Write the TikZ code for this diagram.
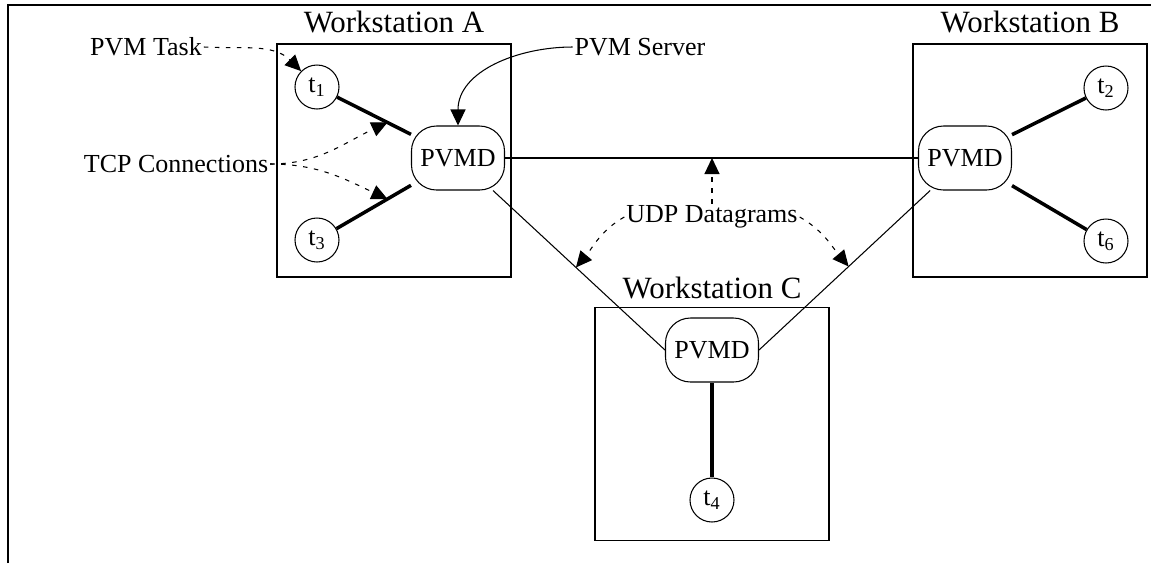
\documentclass[tikz,border=0pt]{standalone}
\usepackage{fontspec}
\setmainfont{Liberation Serif}
\usetikzlibrary{arrows.meta,calc}

\begin{document}
\begin{tikzpicture}[%
	x=0.2mm, y=0.2mm,%
	station/.style ={draw, line width=0.6pt, minimum width=46.8mm, minimum height=46.6mm},%
	title/.style ={font=\fontsize{17.6pt}{21pt}\selectfont, inner sep=0pt},%
	note/.style ={font=\fontsize{14.8pt}{17pt}\selectfont, inner sep=1pt},%
	task/.style ={draw, circle, line width=0.6pt, minimum size=8.8mm, inner sep=0pt, font=\fontsize{14.8pt}{17pt}\selectfont},%
	daemon/.style ={draw, rounded corners=5mm, line width=0.6pt, minimum width=18.6mm, minimum height=12.8mm, inner sep=0pt, font=\fontsize{14.8pt}{17pt}\selectfont},%
	link/.style ={line width=0.6pt},%
	conn/.style ={line width=2pt},%
	pointer/.style ={-{Triangle[length=3.2mm,width=3mm]}, line width=0.6pt},%
	hint/.style ={pointer, dash pattern=on 0.9mm off 1.3mm},%
	]
\useasboundingbox (0,0) rectangle (1151,-563);
%%% frame
	\draw [line width=0.8pt] (8,-563) -- (8,-5) -- (1151,-5);
%%% frame
%%% workstations
	\foreach \l/\x/\y/\ty in {A/394/160.5/22,B/1030/160.5/22,C/712/424/288}
		{\node [station] (ws\l) at (\x,-\y) {};
		 \node [title] (title\l) at (\x,-\ty) {Workstation \l};}
%%% workstations
%%% daemons and tasks
	\node [daemon] (pa) at (458,-158) {PVMD};
	\node [daemon] (pb) at (965,-158) {PVMD};
	\node [daemon] (pc) at (712,-350) {PVMD};
	%
	\node [task] (t1) at (317,-87) {t\textsubscript{1}};
	\node [task] (t3) at (317,-240) {t\textsubscript{3}};
	\node [task] (t2) at (1106,-88) {t\textsubscript{2}};
	\node [task] (t6) at (1106,-241) {t\textsubscript{6}};
	\node [task] (t4) at (712,-500) {t\textsubscript{4}};
%%% daemons and tasks
%%% connections
	\foreach \a/\b in {t1/pa,t3/pa,t2/pb,t6/pb,t4/pc}
		{\draw [conn] (\a) -- (\b);}
	\draw [link] (pa) -- (pb);
	\draw [link] (pa) -- (pc.west);
	\draw [link] (pb) -- (pc.east);
%%% connections
%%% labels
	\node [note] (tasklabel) at (146,-47) {PVM Task};
	\node [note] (serverlabel) at (640,-47) {PVM Server};
	\node [note] (tcplabel) at (176,-164) {TCP Connections};
	\node [note] (udplabel) at (712,-217) {UDP Datagrams};
	%
	\coordinate (tcpup) at ($(t1)!.5!(pa)$);
	\coordinate (tcpdown) at ($(t3)!.5!(pa)$);
	\coordinate (udpup) at (pc |- pa);
	\coordinate (udpleft) at ($(pa)!.57!(pc.west)$);
	\coordinate (udpright) at ($(pb)!.565!(pc.east)$);
	%
	\draw [hint] (tasklabel.east) to [out=-3, in=135] (t1.north west);
	\draw [pointer] (serverlabel.west) to [out=180, in=90] (pa.north);
	\draw [hint] (tcplabel.east) to [out=0, in=205] (tcpup);
	\draw [hint] (tcplabel.east) to [out=0, in=155] (tcpdown);
	\draw [hint] (udplabel.north) -- (udpup);
	\draw [hint] (udplabel.west) to [out=210, in=50] (udpleft);
	\draw [hint] (udplabel.east) to [out=-30, in=130] (udpright);
%%% labels
\end{tikzpicture}
\end{document}
